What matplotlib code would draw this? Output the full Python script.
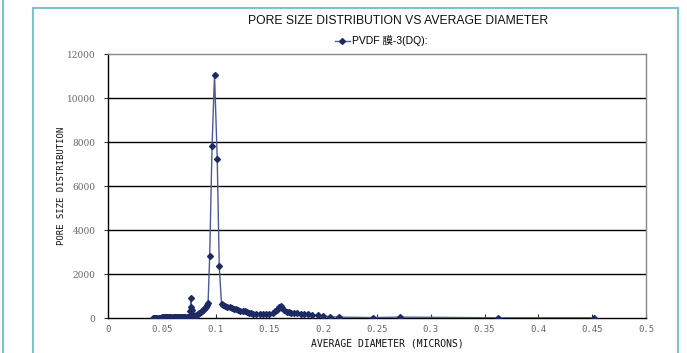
import matplotlib
matplotlib.use("Agg")
import matplotlib.pyplot as plt
from matplotlib.lines import Line2D

# ---- data ----
diameter = [0.042, 0.043, 0.044, 0.045, 0.046, 0.047, 0.048, 0.049, 0.050, 0.051,
            0.052, 0.053, 0.054, 0.055, 0.056, 0.057, 0.058, 0.059, 0.060, 0.061,
            0.062, 0.063, 0.064, 0.065, 0.066, 0.067, 0.068, 0.069, 0.070, 0.071,
            0.072, 0.073, 0.074, 0.075, 0.076, 0.0765, 0.077, 0.0775, 0.078, 0.0785,
            0.079, 0.080, 0.081, 0.082, 0.083, 0.084, 0.085, 0.086, 0.087, 0.088,
            0.089, 0.090, 0.091, 0.092, 0.093, 0.0945, 0.0967, 0.099, 0.1015, 0.1034,
            0.1055, 0.107, 0.109, 0.111, 0.113, 0.115, 0.117, 0.119, 0.121, 0.123,
            0.125, 0.127, 0.129, 0.131, 0.133, 0.135, 0.138, 0.141, 0.144, 0.147,
            0.150, 0.153, 0.155, 0.157, 0.159, 0.1605, 0.162, 0.164, 0.166, 0.168,
            0.170, 0.173, 0.176, 0.179, 0.182, 0.186, 0.190, 0.195, 0.200, 0.206,
            0.215, 0.246, 0.271, 0.362, 0.452]
distribution = [10, 12, 15, 15, 18, 20, 20, 22, 25, 25,
                25, 28, 30, 30, 30, 32, 32, 35, 35, 35,
                38, 40, 40, 40, 42, 45, 45, 45, 48, 50,
                50, 55, 55, 60, 70, 320, 900, 480, 380, 200,
                110, 100, 105, 120, 150, 180, 220, 260, 300, 350,
                400, 460, 520, 580, 680, 2800, 7800, 11050, 7250, 2350,
                620, 600, 560, 520, 480, 440, 420, 400, 370, 340,
                320, 300, 280, 250, 220, 200, 180, 170, 180, 190,
                200, 250, 300, 380, 480, 540, 450, 350, 290, 260,
                240, 220, 210, 200, 180, 160, 140, 120, 100, 60,
                40, 20, 40, 10, 10]
series_name = "PVDF 膜-3(DQ):"
title = "PORE SIZE DISTRIBUTION VS AVERAGE DIAMETER"
xlabel = "AVERAGE DIAMETER (MICRONS)"
ylabel = "PORE SIZE DISTRIBUTION"
xticks = [0, 0.05, 0.1, 0.15, 0.2, 0.25, 0.3, 0.35, 0.4, 0.45, 0.5]
xtick_labels = ["0", "0.05", "0.1", "0.15", "0.2", "0.25", "0.3", "0.35", "0.4", "0.45", "0.5"]
yticks = [0, 2000, 4000, 6000, 8000, 10000, 12000]

W, H = 687, 353
fig = plt.figure(figsize=(W / 100, H / 100), dpi=100)
fig.patch.set_facecolor("white")

ax = fig.add_axes([108 / W, 1 - 318 / H, (646 - 108) / W, (318 - 54) / H])
line_col = "#4a5a92"
mark_col = "#1c2a63"
ax.plot(diameter, distribution, color=line_col, lw=1.0, marker="D", ms=3.0,
        mfc=mark_col, mec=mark_col, zorder=3)

ax.set_xlim(0, 0.5)
ax.set_ylim(0, 12000)
ax.set_xticks(xticks)
ax.set_xticklabels(xtick_labels, family="DejaVu Sans Mono", fontsize=6.5, color="#666666")
ax.set_yticks(yticks)
ax.set_yticklabels([str(v) for v in yticks], family="DejaVu Serif", fontsize=6.5, color="#666666")
ax.tick_params(axis="x", direction="in", length=3, width=0.8, color="#333333", pad=5)
ax.tick_params(axis="y", direction="out", length=3, width=0.8, color="#333333", pad=6)
for v in yticks[1:-1]:
    ax.axhline(v, color="black", lw=1.0, zorder=1)
for s in ["top", "right"]:
    ax.spines[s].set_color("#888888")
    ax.spines[s].set_linewidth(1.0)
for s in ["left", "bottom"]:
    ax.spines[s].set_color("black")
    ax.spines[s].set_linewidth(1.0)

fig.text(387 / W, 1 - 344 / H, xlabel, ha="center", va="center",
         family="DejaVu Sans Mono", fontsize=7, color="#111111")
fig.text(62 / W, 1 - 186 / H, ylabel, ha="center", va="center", rotation=90,
         family="DejaVu Sans Mono", fontsize=6.5, color="#111111")
fig.text(398 / W, 1 - 21 / H, title, ha="center", va="center",
         family=["Liberation Sans", "Noto Sans CJK SC"], fontsize=8.7, color="#111111")

# legend
leg = ax.legend([Line2D([0], [0], color=line_col, lw=1.0, marker="D", ms=3.0,
                        mfc=mark_col, mec=mark_col)], [series_name],
                loc="center", bbox_to_anchor=(381 / W, 1 - 41 / H),
                bbox_transform=fig.transFigure, frameon=False, handlelength=1.5,
                handletextpad=0.15, prop={"family": ["Liberation Sans", "Noto Sans CJK SC"], "size": 7.5})

# teal frame lines
teal = "#7cc3cc"
fig.add_artist(Line2D([33 / W, 33 / W], [0, 1 - 8 / H], transform=fig.transFigure, color=teal, lw=1.5))
fig.add_artist(Line2D([33 / W, 678 / W], [1 - 8 / H, 1 - 8 / H], transform=fig.transFigure, color=teal, lw=1.5))
fig.add_artist(Line2D([678 / W, 678 / W], [0, 1 - 8 / H], transform=fig.transFigure, color=teal, lw=1.5))
fig.add_artist(Line2D([3 / W, 3 / W], [0, 1], transform=fig.transFigure, color=teal, lw=1.5))

fig.savefig("out.png", dpi=100)
